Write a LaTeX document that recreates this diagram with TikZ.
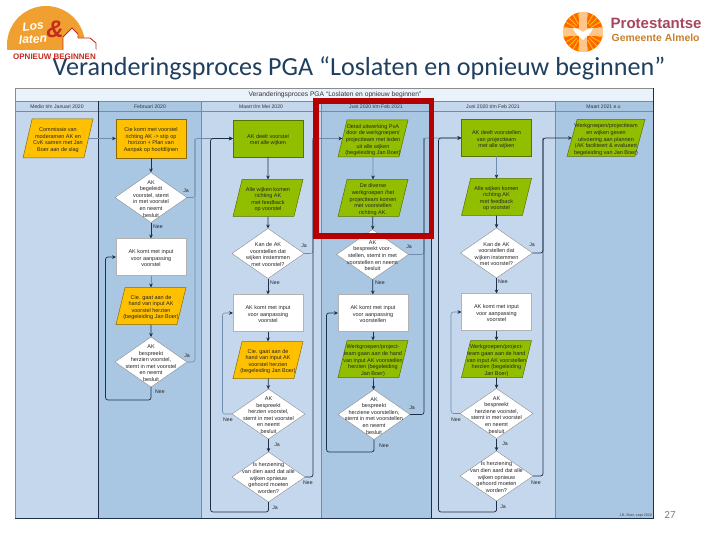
\documentclass[tikz,border=0pt]{standalone}
\usepackage{fontspec}
\setmainfont{Liberation Sans}
\newfontfamily\titlefont{Carlito}
\usetikzlibrary{shapes.geometric,arrows.meta}
\definecolor{lanelight}{HTML}{C5D7EC}
\definecolor{lanedark}{HTML}{A9C6E2}
\definecolor{bandcol}{HTML}{EAF2FB}
\definecolor{yellowfill}{HTML}{FFC000}
\definecolor{greenfill}{HTML}{92BE00}
\definecolor{darkline}{HTML}{1E3048}
\definecolor{softline}{HTML}{6F8CAC}
\definecolor{redframe}{HTML}{B40000}
\definecolor{titleblue}{HTML}{1F3F60}
\definecolor{sunorange}{HTML}{F0A030}
\definecolor{logored}{HTML}{C8281E}
\definecolor{protmaroon}{HTML}{A8455E}
\definecolor{protorange}{HTML}{C9802A}
\newcommand{\dt}[1]{\raisebox{-3pt}[1pt][1pt]{\makebox[1pt]{\fontsize{5.5}{6.6}\selectfont\color{black!85}\begin{tabular}{@{}c@{}}#1\end{tabular}}}}
\tikzset{
  x=1pt,y=-1pt,
  boxbase/.style={draw,line width=0.5pt,minimum width=70pt,minimum height=37pt,inner sep=0pt,outer sep=0pt},
  yrect/.style={boxbase,rectangle,fill=yellowfill,draw=yellowfill!55!black},
  grect/.style={boxbase,rectangle,fill=greenfill,draw=greenfill!60!black},
  wrect/.style={boxbase,rectangle,fill=white,draw=black!30},
  parabase/.style={boxbase,trapezium,trapezium left angle=85,trapezium right angle=95,trapezium stretches=true},
  ypara/.style={parabase,fill=yellowfill,draw=yellowfill!55!black},
  gpara/.style={parabase,fill=greenfill,draw=greenfill!60!black},
  dia/.style={diamond,draw=black!45,fill=white,line width=0.4pt,minimum width=72pt,minimum height=50pt,inner sep=0pt,outer sep=0pt,aspect=1.4},
  flowd/.style={draw=darkline,line width=0.7pt,rounded corners=2.5pt,-{Stealth[length=4pt,width=3.6pt]}},
  flows/.style={draw=softline,line width=0.6pt,rounded corners=2.5pt,-{Stealth[length=4pt,width=3.6pt,color=darkline]}},
  lined/.style={draw=darkline,line width=0.7pt,rounded corners=2.5pt},
  lines/.style={draw=softline,line width=0.6pt,rounded corners=2.5pt},
  lab/.style={font=\fontsize{5.2}{6}\selectfont,text=black!85,inner sep=0pt},
  head/.style={font=\fontsize{5.1}{6}\selectfont,text=black!80,inner sep=0pt},
}
\begin{document}
\begin{tikzpicture}
\useasboundingbox (0,0) rectangle (720,540);
% --- lanes
\fill[lanelight] (15,101) rectangle (98,518);
\fill[lanedark] (98,101) rectangle (201,518);
\fill[lanelight] (201,101) rectangle (321,518);
\fill[lanedark] (321,101) rectangle (431,518);
\fill[lanelight] (431,101) rectangle (555,518);
\fill[lanedark] (555,101) rectangle (653,518);
\fill[bandcol] (15,88) rectangle (653,101);
\draw[black!45,line width=0.7pt] (15,518) -- (15,88) -- (653,88);
\draw[darkline,line width=0.8pt] (653,88) -- (653,518) -- (15,518);
\draw[softline,line width=0.5pt] (15,101) -- (653,101);
\draw[softline,line width=0.4pt] (15,111) -- (653,111);
\draw[darkline,line width=0.6pt] (98,101) -- (98,518);
\draw[softline,line width=0.7pt] (201,101) -- (201,518);
\draw[softline,line width=0.6pt] (321,101) -- (321,518);
\draw[darkline,line width=0.6pt] (431,101) -- (431,518);
\draw[softline,line width=0.6pt] (555,101) -- (555,518);
% --- headers
\node[head,font=\fontsize{6.7}{7}\selectfont] (bandtitle) at (335,94.5) {Veranderingsproces PGA “Loslaten en opnieuw beginnen”};
\node[head] (h1) at (57,106.5) {Medio t/m Januari 2020};
\node[head] (h2) at (150,106.5) {Februari 2020};
\node[head] (h3) at (261,106.5) {Maart t/m Mei 2020};
\node[head] (h4) at (376,106.5) {Juni 2020 t/m Feb 2021};
\node[head] (h5) at (493,106.5) {Juni 2020 t/m Feb 2021};
\node[head] (h6) at (604,106.5) {Maart 2021 e.v.};
% --- nodes, column 1 and 2
\node[ypara,minimum height=39pt] (a1) at (58,138.5) {\dt{Commissie van\\moderamen AK en\\CvK samen met Jan\\Boer aan de slag}};
\node[yrect,minimum height=39pt] (b1) at (151,138.5) {\dt{Cie komt met voorstel\\richting AK -> stip op\\horizon + Plan van\\Aanpak op hoofdlijnen}};
\node[dia] (b2) at (151,197.5) {\dt{AK\\begeleidt\\voorstel, stemt\\in met voorstel\\en neemt\\besluit}};
\node[wrect] (b3) at (151,257) {\dt{AK komt met input\\voor aanpassing\\voorstel}};
\node[ypara] (b4) at (151,306) {\dt{Cie. gaat aan de\\hand van input AK\\voorstel herzien\\(begeleiding Jan Boer)}};
\node[dia] (b5) at (151,362) {\dt{AK\\bespreekt\\herzien voorstel,\\stemt in met voorstel\\en neemt\\besluit}};
% --- column 3
\node[grect] (c1) at (268,138.5) {\dt{AK deelt voorstel\\met alle wijken}};
\node[gpara] (c2) at (268,198) {\dt{Alle wijken komen\\richting AK\\met feedback\\op voorstel}};
\node[dia] (c3) at (268,253.5) {\dt{Kan de AK\\voorstellen dat\\wijken instemmen\\met voorstel?}};
\node[wrect] (c4) at (268,313) {\dt{AK komt met input\\voor aanpassing\\voorstel}};
\node[ypara] (c5) at (268,360) {\dt{Cie. gaat aan de\\hand van input AK\\voorstel herzien\\(begeleiding Jan Boer)}};
\node[dia,minimum width=73pt] (c6) at (268.5,414) {\dt{AK\\bespreekt\\herzien voorstel,\\stemt in met voorstel\\en neemt\\besluit}};
\node[dia,minimum width=73pt] (c7) at (268.5,477) {\dt{Is herziening\\van dien aard dat alle\\wijken opnieuw\\gehoord moeten\\worden?}};
% --- column 4
\node[gpara] (d1) at (373,138.5) {\dt{Detail uitwerking PvA\\door de werkgroepen/\\projectteam met leden\\uit alle wijken\\(begeleiding Jan Boer)}};
\node[gpara] (d2) at (373,198) {\dt{De diverse\\werkgroepen /het\\projectteam komen\\met voorstellen\\richting AK.}};
\node[dia] (d3) at (372.5,254.5) {\dt{AK\\bespreekt voor-\\stellen, stemt in met\\voorstellen en neemt\\besluit\\ }};
\node[wrect] (d4) at (373,313) {\dt{AK komt met input\\voor aanpassing\\voorstellen}};
\node[gpara] (d5) at (373,359) {\dt{Werkgroepen/project-\\team gaan aan de hand\\van input AK voorstellen\\herzien (begeleiding\\Jan Boer)}};
\node[dia] (d6) at (374,414.5) {\dt{AK\\bespreekt\\herziene voorstellen,\\stemt in met voorstellen\\en neemt\\besluit}};
% --- column 5
\node[grect] (e1) at (496.5,138) {\dt{AK deelt voorstellen\\van projectteam\\met alle wijken}};
\node[gpara] (e2) at (496.5,197) {\dt{Alle wijken komen\\richting AK\\met feedback\\op voorstel}};
\node[dia] (e3) at (496.5,253) {\dt{Kan de AK\\voorstellen dat\\wijken instemmen\\met voorstel?}};
\node[wrect] (e4) at (496.5,312) {\dt{AK komt met input\\voor aanpassing\\voorstel}};
\node[gpara] (e5) at (496.5,359) {\dt{Werkgroepen/project-\\team gaan aan de hand\\van input AK voorstellen\\herzien (begeleiding\\Jan Boer)}};
\node[dia,minimum width=73pt] (e6) at (496.5,413.5) {\dt{AK\\bespreekt\\herziene voorstel,\\stemt in met voorstel\\en neemt\\besluit}};
\node[dia,minimum width=73pt] (e7) at (496.5,476) {\dt{Is herziening\\van dien aard dat alle\\wijken opnieuw\\gehoord moeten\\worden?}};
% --- column 6
\node[gpara,minimum width=78pt] (f1) at (606,138) {\dt{Werkgroepen/projectteam\\en wijken geven\\uitvoering aan plannen\\(AK faciliteert \& evalueert\\begeleiding van Jan Boer)}};
% --- routing points of the connectors
\coordinate (busA) at (195,138.5);
\coordinate (busB) at (210.5,138.5);
\coordinate (busC) at (313,138.5);
\coordinate (busD) at (424,138);
\coordinate (busE) at (438.5,138);
\coordinate (busF) at (543,138);
\coordinate (lowC) at (268.5,512);
\coordinate (lowD) at (374,452);
\coordinate (lowE) at (496.5,512);
\coordinate (loopB) at (105.5,400);
\coordinate (loopC) at (222.5,313);
\coordinate (loopD) at (326.5,452);
\coordinate (loopE) at (451,312);
% --- connectors
\draw[flows] (a1) -- (b1);
\draw[flowd] (b1) -- (b2);
\draw[flowd] (b2) -- (b3);
\draw[flows] (b3) -- (b4);
\draw[flowd] (b4) -- (b5);
\draw[flows] (b2.east) -| (busA) -- (c1.west);
\draw[lines] (b5.east) -| (busA);
\draw[flowd] (b5.south) |- (loopB) |- (b3.west);
\draw[flowd] (c1) -- (c2);
\draw[flowd] (c2) -- (c3);
\draw[flowd] (c3) -- (c4);
\draw[flowd] (c4) -- (c5);
\draw[flowd] (c5) -- (c6);
\draw[flowd] (c6) -- (c7);
\draw[flowd] (c7.south) |- (lowC) -| (busB) -- (c1.west);
\draw[flows] (c3.east) -| (busC) -- (d1.west);
\draw[lined] (c7.east) -| (busC);
\draw[flows] (c6.west) -| (loopC) -- (c4.west);
\draw[flows] (d1) -- (d2);
\draw[flowd] (d2) -- (d3);
\draw[flowd] (d3) -- (d4);
\draw[flowd] (d4) -- (d5);
\draw[flowd] (d5) -- (d6);
\draw[flows] (d3.east) -| (busD) -- (e1.west);
\draw[lined] (d6.east) -| (busD);
\draw[flowd] (d6.south) |- (lowD) -- (loopD) |- (d4.west);
\draw[flows] (e1) -- (e2);
\draw[flowd] (e2) -- (e3);
\draw[flowd] (e3) -- (e4);
\draw[flowd] (e4) -- (e5);
\draw[flowd] (e5) -- (e6);
\draw[flowd] (e6) -- (e7);
\draw[flowd] (e7.south) |- (lowE) -| (busE) -- (e1.west);
\draw[flowd] (e3.east) -| (busF) -- (f1.west);
\draw[lined] (e7.east) -| (busF);
\draw[flows] (e6.west) -| (loopE) -- (e4.west);
% --- connector labels
\node[lab] (l1) at (186,191) {Ja};
\node[lab] (l2) at (158,227) {Nee};
\node[lab] (l3) at (187,356) {Ja};
\node[lab] (l4) at (160,392) {Nee};
\node[lab] (l5) at (304,246) {Ja};
\node[lab] (l6) at (275,283) {Nee};
\node[lab] (l7) at (228,420) {Nee};
\node[lab] (l8) at (277,445) {Ja};
\node[lab] (l9) at (308,483) {Nee};
\node[lab] (l10) at (275,508) {Ja};
\node[lab] (l11) at (409,247) {Ja};
\node[lab] (l12) at (380,283) {Nee};
\node[lab] (l13) at (412,408) {Ja};
\node[lab] (l14) at (384,446) {Nee};
\node[lab] (l15) at (532,245) {Ja};
\node[lab] (l16) at (503,282) {Nee};
\node[lab] (l17) at (456,420) {Nee};
\node[lab] (l18) at (505,444) {Ja};
\node[lab] (l19) at (536,483) {Nee};
\node[lab] (l20) at (503,507) {Ja};
\node[font=\fontsize{3.6}{4}\selectfont,text=black!75,inner sep=0pt,anchor=east] (credit) at (652,516) {J.B. Boer, sept 2020};
% --- red frame
\draw[redframe,line width=5.5pt] (316,101) rectangle (431.5,236);
% --- slide title and number
\node[font=\titlefont\fontsize{26.1}{30}\selectfont,text=titleblue,inner sep=0pt] (slidetitle) at (359,68) {Veranderingsproces PGA “Loslaten en opnieuw beginnen”};
\node[font=\titlefont\fontsize{11}{12}\selectfont,text=black!50,inner sep=0pt] (pagenum) at (670,514.5) {27};
% --- left logo
\begin{scope}
\clip (0,0) rectangle (90,49.5);
\fill[sunorange] (46,45) circle (39);
\end{scope}
\draw[logored,line width=0.9pt,line join=round,fill=white] (63,50) -- (63,37) -- (72,28) -- (78,34) -- (78,38) -- (90,38) -- (96,43) -- (96,50);
\fill[white] (63.5,51) rectangle (95.5,49);
\node[font=\fontsize{12}{12}\selectfont\itshape\bfseries,text=white,inner sep=0pt,rotate=6] (logolos) at (33,26) {Los};
\node[font=\fontsize{12}{12}\selectfont\itshape\bfseries,text=white,inner sep=0pt,rotate=3] (logolaten) at (33,39) {laten};
\node[font=\fontsize{24}{24}\selectfont\itshape\bfseries,text=logored,inner sep=0pt] (logoamp) at (55,29) {\&};
\node[font=\fontsize{8}{8}\selectfont\bfseries,text=logored,inner sep=0pt] (logotag) at (54.5,56.5) {OPNIEUW BEGINNEN};
% --- right logo
\fill[orange!80!red] (583,32) circle (20);
\foreach \a in {0,15,...,345} {\draw[orange!45!yellow,line width=0.9pt] (583,32) ++(\a:9) -- ++(\a:11);}
\fill[white!55!orange] (579,12) rectangle (587,52);
\fill[white!55!orange] (563,28) rectangle (603,36);
\fill[white] (573,28) .. controls (578,29) and (581,30) .. (583,32) .. controls (585,30) and (588,29) .. (593,28) .. controls (591,34) and (587,36) .. (583,40) .. controls (579,36) and (575,34) .. (573,28);
\node[font=\fontsize{15}{16}\selectfont\bfseries,text=protmaroon,inner sep=0pt,anchor=west] (prot) at (610.5,23) {Protestantse};
\node[font=\fontsize{10.4}{11}\selectfont\bfseries,text=protorange,inner sep=0pt,anchor=west] (almelo) at (611.5,38) {Gemeente Almelo};
\end{tikzpicture}
\end{document}
